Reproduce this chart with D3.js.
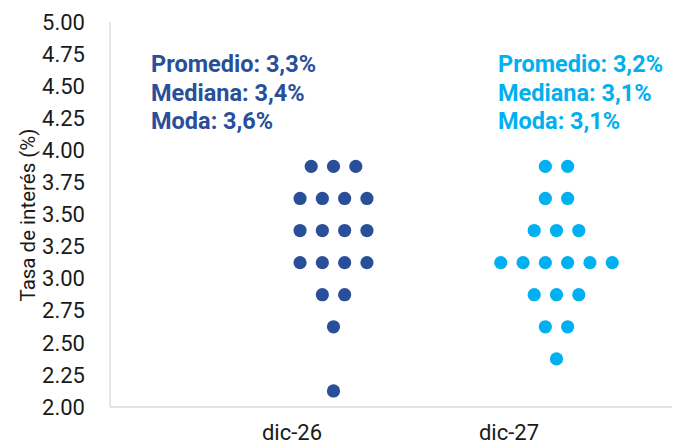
<!DOCTYPE html>
<html>
<head>
<meta charset="utf-8">
<script src="https://cdn.jsdelivr.net/npm/d3@7"></script>
<style>
  body { margin: 0; background: #fff; }
  svg { display: block; font-family: Roboto, "Noto Sans", sans-serif; }
</style>
</head>
<body>
<svg id="chart" width="683" height="446"></svg>
<script>
// Categories (forecast horizon)
const categories = ["dic-26", "dic-27"];

// Bin centers of the rate distribution (%)
const binCenters = [3.875, 3.625, 3.375, 3.125, 2.875, 2.625, 2.375, 2.125];

// Number of answers falling in each bin
const counts26 = [3, 4, 4, 4, 2, 1, 0, 1];
const counts27 = [2, 2, 3, 6, 3, 2, 1, 0];

// Summary text
const stats26 = ["Promedio: 3,3%", "Mediana: 3,4%", "Moda: 3,6%"];
const stats27 = ["Promedio: 3,2%", "Mediana: 3,1%", "Moda: 3,1%"];

const yTicks = [2, 2.25, 2.5, 2.75, 3, 3.25, 3.5, 3.75, 4, 4.25, 4.5, 4.75, 5];

const dark = "#2a4f9a";
const light = "#00b0f0";

const svg = d3.select("#chart");

const yScale = d3.scaleLinear().domain([2, 5]).range([407, 22]);

// dot column centers
const xScale = d3.scalePoint().domain(categories).range([333.5, 556.5]);
const dotStep = 22.3;

const plotLeft = 110;
const plotRight = 672;

// axis lines
svg.append("line")
  .attr("x1", plotLeft).attr("x2", plotLeft)
  .attr("y1", yScale(5)).attr("y2", yScale(2))
  .attr("stroke", "#d9d9d9").attr("stroke-width", 1.3);
svg.append("line")
  .attr("x1", plotLeft).attr("x2", plotRight)
  .attr("y1", yScale(2)).attr("y2", yScale(2))
  .attr("stroke", "#d9d9d9").attr("stroke-width", 1.3);

// y tick labels
svg.append("g")
  .selectAll("text")
  .data(yTicks)
  .join("text")
    .attr("x", 85)
    .attr("y", d => yScale(d))
    .attr("dy", "0.35em")
    .attr("text-anchor", "end")
    .attr("font-size", 22)
    .attr("fill", "#1a1a1a")
    .text(d3.format(".2f"));

// y axis title
svg.append("text")
  .attr("transform", "translate(35,215) rotate(-90)")
  .attr("text-anchor", "middle")
  .attr("font-size", 20.5)
  .attr("fill", "#1a1a1a")
  .text("Tasa de interés (%)");

// x labels (sit a bit left of the dot columns)
svg.append("g")
  .selectAll("text")
  .data(categories)
  .join("text")
    .attr("x", (d, i) => xScale(d) - (i === 0 ? 41.5 : 47.5))
    .attr("y", 440)
    .attr("text-anchor", "middle")
    .attr("font-size", 22)
    .attr("fill", "#1a1a1a")
    .text(d => d);

// build dot positions from counts
const buildDots = (cat, counts) => {
  const dots = [];
  counts.forEach((n, b) => {
    for (let i = 0; i < n; i++) {
      dots.push({ cat, value: binCenters[b], offset: i - (n - 1) / 2 });
    }
  });
  return dots;
};

const series = [
  { cat: categories[0], counts: counts26, color: dark },
  { cat: categories[1], counts: counts27, color: light }
];

series.forEach(s => {
  svg.append("g")
    .selectAll("circle")
    .data(buildDots(s.cat, s.counts))
    .join("circle")
      .attr("cx", d => xScale(d.cat) + d.offset * dotStep)
      .attr("cy", d => yScale(d.value))
      .attr("r", 6.6)
      .attr("fill", s.color);
});

// summary annotations
const addStats = (lines, x, color) => {
  svg.append("g")
    .selectAll("text")
    .data(lines)
    .join("text")
      .attr("x", x)
      .attr("y", (d, i) => 72 + i * 28.7)
      .attr("font-size", 23.5)
      .attr("font-weight", 700)
      .attr("fill", color)
      .text(d => d);
};
addStats(stats26, 151, dark);
addStats(stats27, 498, light);
</script>
</body>
</html>
